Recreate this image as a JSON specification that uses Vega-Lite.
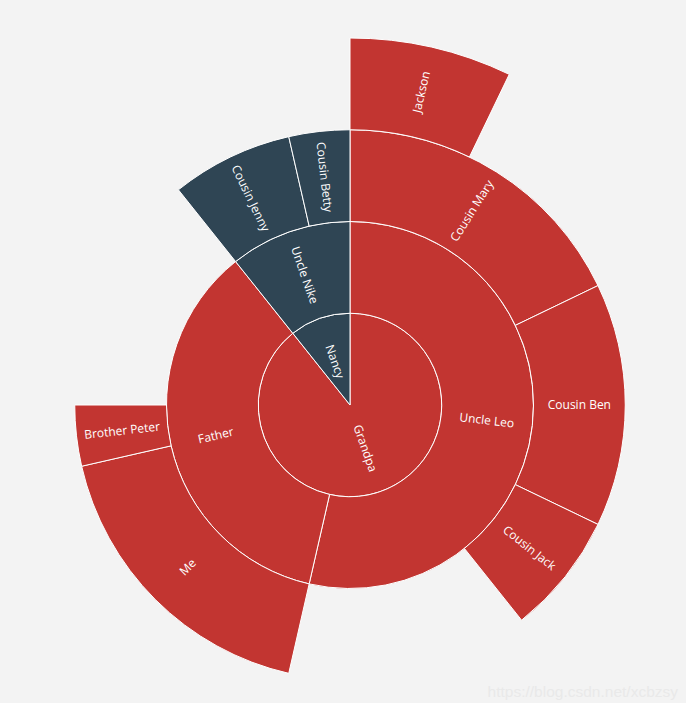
{
  "$schema": "https://vega.github.io/schema/vega-lite/v6.json",
  "width": 672,
  "height": 556,
  "autosize": {"type": "none"},
  "padding": {"left": 14, "top": 127, "right": 0, "bottom": 20},
  "background": "#f3f3f3",
  "view": {"stroke": null},
  "title": {
    "text": "https://blog.csdn.net/xcbzsy",
    "orient": "bottom",
    "anchor": "end",
    "frame": "group",
    "offset": 2,
    "dx": -8,
    "color": "#e9e9e9",
    "font": "Liberation Sans",
    "fontSize": 15.5,
    "fontWeight": "normal"
  },
  "data": {
    "values": [
      {"name": "Grandpa", "root": "Grandpa", "level": 1, "start": 0, "end": 25},
      {"name": "Nancy", "root": "Nancy", "level": 1, "start": 25, "end": 28},
      {"name": "Uncle Leo", "root": "Grandpa", "level": 2, "start": 0, "end": 15},
      {"name": "Father", "root": "Grandpa", "level": 2, "start": 15, "end": 25},
      {"name": "Uncle Nike", "root": "Nancy", "level": 2, "start": 25, "end": 28},
      {"name": "Cousin Mary", "root": "Grandpa", "level": 3, "start": 0, "end": 5},
      {"name": "Cousin Ben", "root": "Grandpa", "level": 3, "start": 5, "end": 9},
      {"name": "Cousin Jack", "root": "Grandpa", "level": 3, "start": 9, "end": 11},
      {"name": "Me", "root": "Grandpa", "level": 3, "start": 15, "end": 20},
      {"name": "Brother Peter", "root": "Grandpa", "level": 3, "start": 20, "end": 21},
      {"name": "Cousin Jenny", "root": "Nancy", "level": 3, "start": 25, "end": 27},
      {"name": "Cousin Betty", "root": "Nancy", "level": 3, "start": 27, "end": 28},
      {"name": "Jackson", "root": "Grandpa", "level": 4, "start": 0, "end": 2}
    ]
  },
  "transform": [
    {"calculate": "datum.level - 1", "as": "r0"},
    {"calculate": "(datum.start + datum.end) / 2", "as": "mid"},
    {"calculate": "datum.level - 0.5", "as": "rmid"},
    {"calculate": "datum.mid * 360 / 28", "as": "deg"},
    {"calculate": "((datum.deg < 180 ? datum.deg - 90 : datum.deg - 270) + 360) % 360", "as": "rot"}
  ],
  "layer": [
    {
      "mark": {"type": "arc", "stroke": "#ffffff", "strokeWidth": 1},
      "encoding": {
        "theta": {"field": "start", "type": "quantitative", "stack": null, "scale": {"domain": [0, 28], "range": [0, 6.283185307179586]}},
        "theta2": {"field": "end"},
        "radius": {"field": "r0", "type": "quantitative", "scale": {"type": "linear", "domain": [0, 4], "range": [0, 367], "zero": true}},
        "radius2": {"field": "level"},
        "color": {"field": "root", "type": "nominal", "scale": {"domain": ["Grandpa", "Nancy"], "range": ["#c23531", "#2f4554"]}, "legend": null}
      }
    },
    {
      "mark": {"type": "text", "color": "#ffffff", "font": "Open Sans", "fontSize": 12, "fontWeight": 500, "align": "center", "baseline": "middle"},
      "encoding": {
        "theta": {"field": "mid", "type": "quantitative", "stack": null},
        "radius": {"field": "rmid", "type": "quantitative"},
        "angle": {"field": "rot", "type": "quantitative", "scale": null},
        "text": {"field": "name", "type": "nominal"}
      }
    }
  ]
}
